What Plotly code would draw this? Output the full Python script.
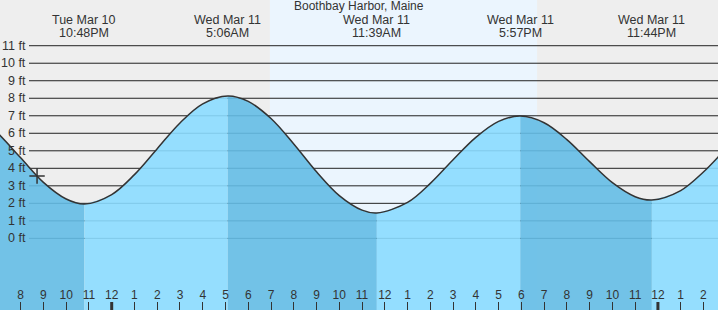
import plotly.graph_objects as go

# ---- data (hours relative to Wed Mar 11 00:00) ----
curve_t = [-6, -5, -4, -3, -2, -1.2, 0, 1, 2, 3, 4, 5.1, 6, 7, 8, 9, 10, 11, 11.65,
           13, 14, 15, 16, 17, 17.95, 19, 20, 21, 22, 23, 23.733, 25, 26, 27, 28]
curve_h = [7.2, 6.0, 4.6, 3.2, 2.25, 1.96, 2.5, 3.64, 5.12, 6.59, 7.68, 8.13, 7.82,
           6.84, 5.39, 3.8, 2.44, 1.61, 1.45, 2.05, 3.14, 4.49, 5.77, 6.68, 6.98,
           6.6, 5.64, 4.38, 3.18, 2.38, 2.19, 2.73, 3.79, 5.13, 6.44]

ext_day = ["Tue Mar 10", "Wed Mar 11", "Wed Mar 11", "Wed Mar 11", "Wed Mar 11"]
ext_time = ["10:48PM", "5:06AM", "11:39AM", "5:57PM", "11:44PM"]
ext_dayoffset = [-24, 0, 0, 0, 0]

now_t = -3.28
now_h = 3.56

sunrise_t = 6.95
sunset_t = 18.69

y_ticks = [0, 1, 2, 3, 4, 5, 6, 7, 8, 9, 10, 11]
x_hours = list(range(-5, 27))
title = "Boothbay Harbor, Maine"

x_range = [-4.908, 26.64]
y_range = [-4.09, 13.61]


def parse_time(s, off):
    hm, ap = s[:-2], s[-2:]
    h, m = hm.split(":")
    h = int(h) % 12 + (12 if ap == "PM" else 0)
    return off + h + int(m) / 60.0


ext_t = [parse_time(s, o) for s, o in zip(ext_time, ext_dayoffset)]

DARK = "rgba(100,188,229,0.9)"
LIGHT = "rgba(139,219,255,0.9)"
TEXT = "#333333"
FONT = "Liberation Sans, Arial, sans-serif"
TOL = 0.01

fig = go.Figure()

bounds = [curve_t[0]] + ext_t + [curve_t[-1]]
for i in range(len(bounds) - 1):
    a, b = bounds[i], bounds[i + 1]
    xs = [t for t in curve_t if a - TOL <= t <= b + TOL]
    ys = [h for t, h in zip(curve_t, curve_h) if a - TOL <= t <= b + TOL]
    col = DARK if i % 2 == 0 else LIGHT
    fig.add_trace(go.Scatter(x=[xs[0], xs[-1]], y=[-10, -10], mode="lines",
                             line=dict(width=0), hoverinfo="skip", showlegend=False))
    fig.add_trace(go.Scatter(x=xs, y=ys, mode="lines", fill="tonexty", fillcolor=col,
                             line=dict(width=0, shape="spline"), hoverinfo="skip",
                             showlegend=False))

fig.add_trace(go.Scatter(x=curve_t, y=curve_h, mode="lines",
                         line=dict(color=TEXT, width=1.5, shape="spline"),
                         hoverinfo="skip", showlegend=False))

fig.add_trace(go.Scatter(x=[now_t], y=[now_h], mode="markers",
                         marker=dict(symbol="cross-thin", size=11,
                                     line=dict(color=TEXT, width=1.5)),
                         hoverinfo="skip", showlegend=False))

shapes = [dict(type="rect", xref="x", yref="paper", x0=sunrise_t, x1=sunset_t, y0=0, y1=1,
               fillcolor="#ebf5fe", line=dict(width=0), layer="below")]
for v in y_ticks:
    shapes.append(dict(type="line", xref="paper", yref="y", x0=29 / 718, x1=1, y0=v, y1=v,
                       line=dict(color="#222222", width=1), layer="below"))
for t in x_hours:
    if t % 24 == 0:
        shapes.append(dict(type="line", xref="x", yref="paper", x0=t, x1=t, y0=0, y1=8 / 310,
                           line=dict(color=TEXT, width=3), layer="above"))

annotations = [dict(text=title, x=0.5, y=1 - 6 / 310, xref="paper", yref="paper",
                    showarrow=False, font=dict(size=12, color=TEXT, family=FONT),
                    xanchor="center", yanchor="middle", borderpad=0)]
for t, d, s in zip(ext_t, ext_day, ext_time):
    annotations.append(dict(text=d, x=t, y=1 - 20 / 310, xref="x", yref="paper",
                            showarrow=False, font=dict(size=12.5, color=TEXT, family=FONT),
                            xanchor="center", yanchor="middle", borderpad=0))
    annotations.append(dict(text=s, x=t, y=1 - 32.5 / 310, xref="x", yref="paper",
                            showarrow=False, font=dict(size=12.5, color=TEXT, family=FONT),
                            xanchor="center", yanchor="middle", borderpad=0))
for v in y_ticks:
    annotations.append(dict(text=f"{v} ft", x=27.5 / 718, y=v, xref="paper", yref="y",
                            showarrow=False, font=dict(size=12.5, color=TEXT, family=FONT),
                            xanchor="right", yanchor="middle"))

tick_text = [str((h % 12) or 12) for h in x_hours]

fig.update_layout(
    width=718, height=310, margin=dict(l=0, r=0, t=0, b=0),
    paper_bgcolor="#eeeeee", plot_bgcolor="#eeeeee",
    xaxis=dict(range=x_range, showgrid=False, zeroline=False, showline=False,
               tickmode="array", tickvals=x_hours, ticktext=tick_text,
               ticks="inside", ticklen=8, tickwidth=1, tickcolor=TEXT,
               ticklabelposition="inside", tickfont=dict(size=12, color=TEXT, family=FONT),
               fixedrange=True),
    yaxis=dict(range=y_range, visible=False, fixedrange=True),
    shapes=shapes, annotations=annotations, showlegend=False,
)

fig.write_html("out.html")
